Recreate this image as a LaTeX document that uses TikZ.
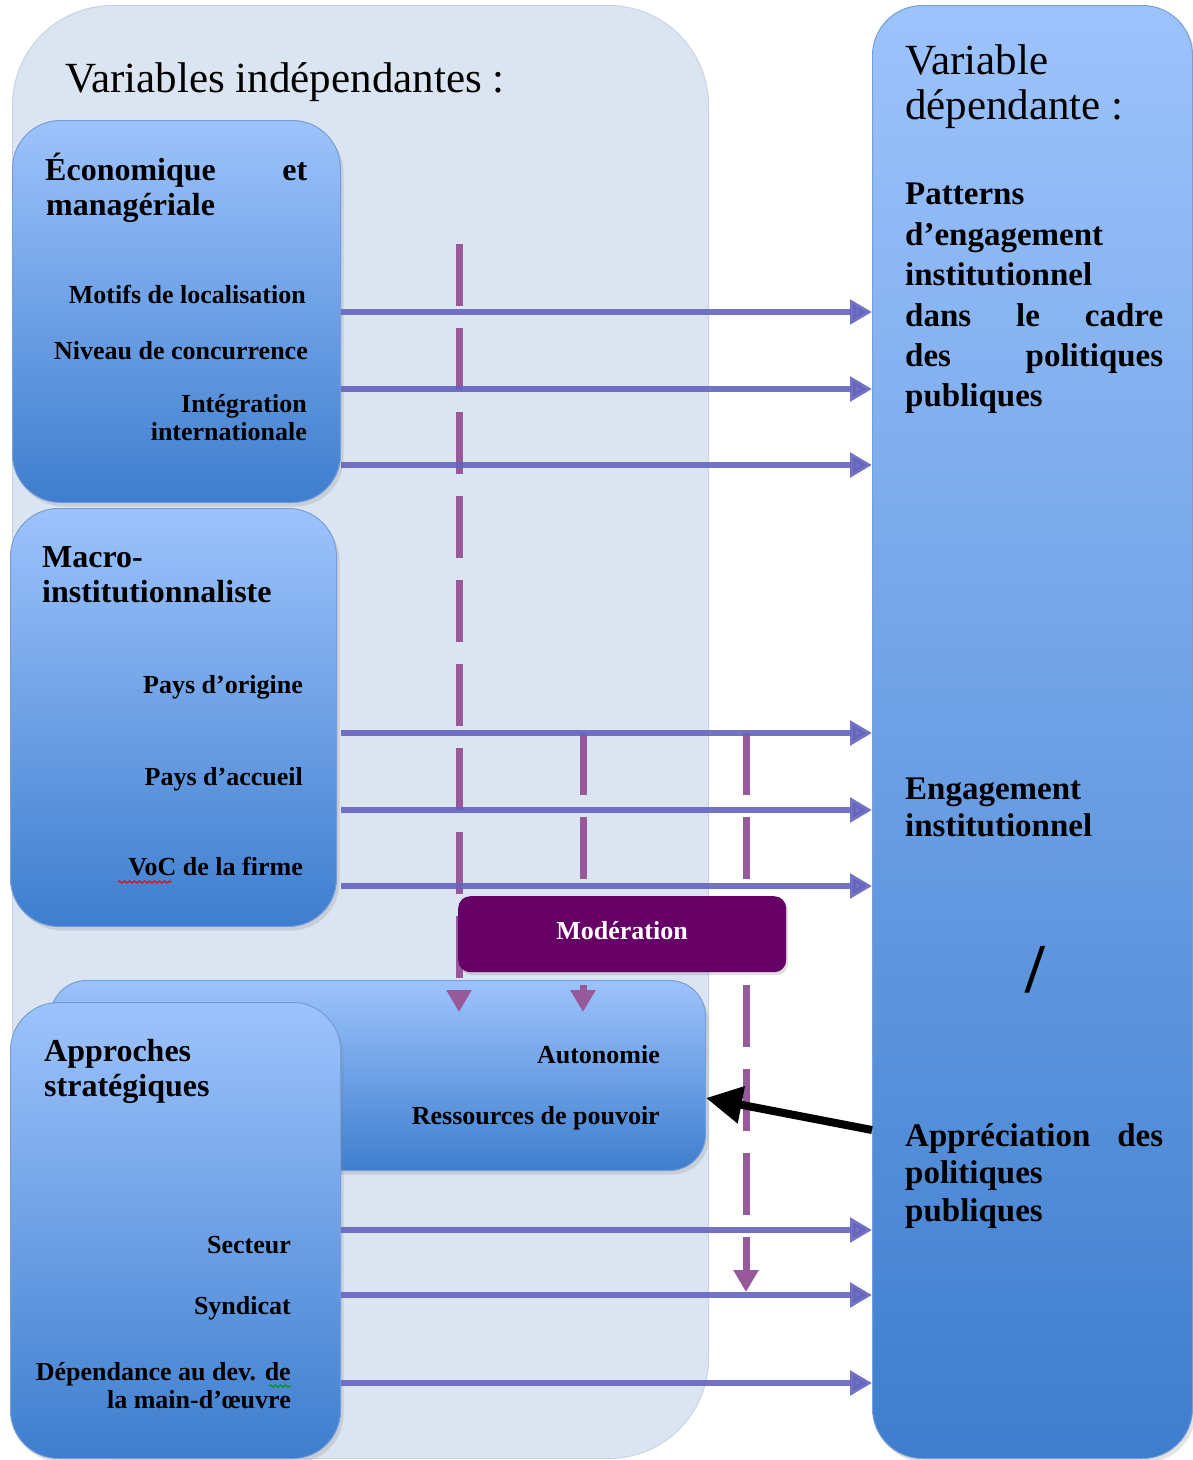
\documentclass[tikz,border=0pt]{standalone}
\usepackage{fontspec}
\setmainfont{Liberation Serif}
\usetikzlibrary{arrows.meta,shadows,decorations.pathmorphing}
\definecolor{panelc}{RGB}{219,229,241}
\definecolor{paneledge}{RGB}{200,212,228}
\definecolor{boxtop}{RGB}{157,195,252}
\definecolor{boxbot}{RGB}{62,126,206}
\definecolor{boxedge}{RGB}{120,158,215}
\definecolor{arrowc}{RGB}{100,100,190}
\definecolor{dashc}{RGB}{150,90,155}
\definecolor{modc}{RGB}{102,0,102}
\definecolor{spellgreen}{RGB}{0,150,0}
\begin{document}
\begin{tikzpicture}[x=1pt,y=-1pt,
  bluebox/.style={draw=boxedge, line width=1pt, top color=boxtop, bottom color=boxbot,
    rounded corners=48pt, anchor=north west, inner sep=0pt,
    drop shadow={opacity=0.22, shadow xshift=3pt, shadow yshift=-4pt}},
  panelbox/.style={draw=paneledge, line width=1pt, fill=panelc, rounded corners=100pt,
    anchor=north west, inner sep=0pt},
  modbox/.style={fill=modc, rounded corners=12pt, anchor=north west, inner sep=0pt,
    drop shadow={opacity=0.25, shadow xshift=2pt, shadow yshift=-3pt}},
  barrow/.style={draw=arrowc, line width=6.5pt, opacity=0.9,
    -{Triangle[length=22pt,width=24pt]}},
  dline/.style={draw=dashc, line width=7pt, dash pattern=on 62pt off 22pt,
    -{Triangle[length=22pt,width=24pt]}},
  blackarrow/.style={draw=black, line width=8pt, -{Triangle[length=36pt,width=36pt]}},
  headtxt/.style={font=\fontsize{43}{50}\selectfont, inner sep=0pt},
  titletxt/.style={font=\fontsize{32}{36}\selectfont\bfseries, inner sep=0pt},
  itemtxt/.style={font=\fontsize{26}{30}\selectfont\bfseries, inner sep=0pt},
  righttxt/.style={font=\fontsize{33}{38}\selectfont\bfseries, inner sep=0pt},
  wavy/.style={decorate, decoration={snake, amplitude=1.2pt, segment length=5pt}, line width=1pt}
]
\useasboundingbox (0,0) rectangle (1193,1460);
\fill[white] (0,0) rectangle (1193,1460);

% panels and boxes
\node[panelbox, minimum width=696pt, minimum height=1453pt] (panel) at (12,5) {};
\node[bluebox, rounded corners=50pt, minimum width=320pt, minimum height=1453pt] (dep) at (872,5) {};
\node[bluebox, minimum width=328pt, minimum height=382pt] (b1) at (12,120) {};
\node[bluebox, minimum width=326pt, minimum height=418pt] (b2) at (10,508) {};
\node[bluebox, rounded corners=36pt, minimum width=655pt, minimum height=190pt] (b3) at (50,980) {};
\node[bluebox, minimum width=330pt, minimum height=456pt] (b4) at (10,1002) {};

% dashed moderation lines
\coordinate (d1s) at (459,244);
\coordinate (d1e) at (459,1012);
\coordinate (d2s) at (583,733);
\coordinate (d2e) at (583,1012);
\coordinate (d3s) at (746,733);
\coordinate (d3e) at (746,1292);
\draw[dline] (d1s) -- (d1e);
\draw[dline] (d2s) -- (d2e);
\draw[dline] (d3s) -- (d3e);

% blue arrows
\foreach \yy in {312,389,465} {\draw[barrow] (b1.east |- 0,\yy) -- (dep.west |- 0,\yy);}
\foreach \yy in {733,810,886} {\draw[barrow] (b1.east |- 0,\yy) -- (dep.west |- 0,\yy);}
\foreach \yy in {1230,1295,1383} {\draw[barrow] (b4.east |- 0,\yy) -- (dep.west |- 0,\yy);}

% moderation box
\node[modbox, minimum width=328pt, minimum height=76pt] (mod) at (458,896) {};
\node[font=\fontsize{26}{30}\selectfont\bfseries, text=white, inner sep=0pt, anchor=base] (modt) at (622,939) {Modération};

% black arrow
\draw[blackarrow] (dep.west |- 0,1130) -- (b3.east |- 0,1098);

% texts left
\node[headtxt, anchor=base west] (h1) at (65,92) {Variables indépendantes :};

\node[titletxt, anchor=base west] (t1a) at (45,180) {\makebox[262pt][l]{Économique\hfill et}};
\node[titletxt, anchor=base west] (t1b) at (46,215) {managériale};
\node[itemtxt, anchor=base east] (i1) at (306,303) {Motifs de localisation};
\node[itemtxt, anchor=base east] (i2) at (308,359) {Niveau de concurrence};
\node[itemtxt, anchor=base east] (i3) at (307,412) {Intégration};
\node[itemtxt, anchor=base east] (i3b) at (307,440) {internationale};

\node[titletxt, anchor=base west] (t2a) at (42,567) {Macro-};
\node[titletxt, anchor=base west] (t2b) at (42,602) {institutionnaliste};
\node[itemtxt, anchor=base east] (i4) at (303,693) {Pays d’origine};
\node[itemtxt, anchor=base east] (i5) at (303,785) {Pays d’accueil};
\node[itemtxt, anchor=base east] (i6) at (303,875) {VoC de la firme};
\draw[red, wavy] (118,882) -- (172,882);

\node[titletxt, anchor=base west] (t4a) at (44,1061) {Approches};
\node[titletxt, anchor=base west] (t4b) at (44,1096) {stratégiques};
\node[itemtxt, anchor=base east] (i7) at (660,1063) {Autonomie};
\node[itemtxt, anchor=base east] (i8) at (660,1124) {Ressources de pouvoir};
\node[itemtxt, anchor=base east] (i9) at (291,1253) {Secteur};
\node[itemtxt, anchor=base east] (i10) at (291,1314) {Syndicat};
\node[itemtxt, anchor=base east] (i11) at (291,1380) {Dépendance au dev. de};
\node[itemtxt, anchor=base east] (i11b) at (291,1408) {la main-d’œuvre};
\draw[spellgreen, wavy] (269,1386) -- (291,1386);

% texts right
\node[headtxt, anchor=base west] (h2a) at (905,74) {Variable};
\node[headtxt, anchor=base west] (h2b) at (905,119) {dépendante :};
\node[righttxt, anchor=base west] (r1) at (905,204) {Patterns};
\node[righttxt, anchor=base west] (r2) at (905,245) {d’engagement};
\node[righttxt, anchor=base west] (r3) at (905,285) {institutionnel};
\node[righttxt, anchor=base west] (r4) at (905,326) {\makebox[258pt][l]{dans\hfill le\hfill cadre}};
\node[righttxt, anchor=base west] (r5) at (905,366) {\makebox[258pt][l]{des\hfill politiques}};
\node[righttxt, anchor=base west] (r6) at (905,406) {publiques};
\node[righttxt, anchor=base west] (r7) at (905,799) {Engagement};
\node[righttxt, anchor=base west] (r8) at (905,836) {institutionnel};
\node[font=\fontsize{70}{70}\selectfont\bfseries, inner sep=0pt] (slash) at (1035,970) {/};
\node[righttxt, anchor=base west] (r9) at (905,1146) {\makebox[258pt][l]{Appréciation\hfill des}};
\node[righttxt, anchor=base west] (r10) at (905,1183) {politiques};
\node[righttxt, anchor=base west] (r11) at (905,1221) {publiques};
\end{tikzpicture}
\end{document}
